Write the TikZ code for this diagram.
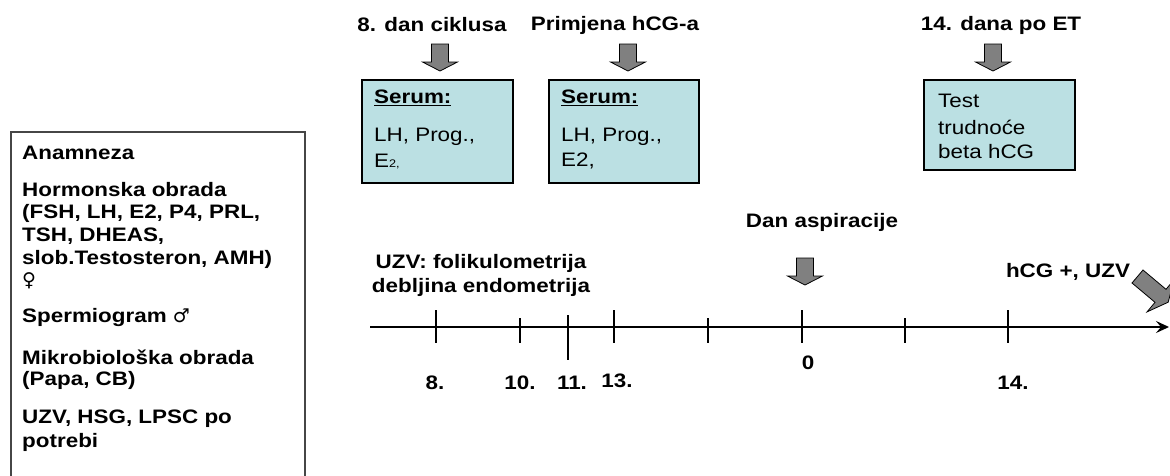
\documentclass[tikz,border=0pt]{standalone}
\usepackage{fontspec}
\setmainfont{Liberation Sans}[FakeStretch=1.15]
\newfontfamily\symfont{DejaVu Sans}
\usetikzlibrary{arrows.meta}
\definecolor{boxcyan}{RGB}{187,224,227}
\definecolor{arrowgray}{RGB}{128,128,128}
\definecolor{frame}{RGB}{70,70,70}
\tikzset{
  lbl/.style={font=\fontsize{19.5}{21}\selectfont\bfseries, inner sep=0pt},
  lblw/.style={lbl, anchor=west},
  txt/.style={font=\fontsize{19.5}{22}\selectfont, inner sep=0pt, anchor=west},
  boxst/.style={draw=black, line width=1.5pt, fill=boxcyan, inner sep=0pt, anchor=north west},
  arrowst/.style={draw=black, line width=0.8pt, fill=arrowgray},
  tickst/.style={line width=1.5pt},
  axisst/.style={line width=2pt, -{Stealth[length=13pt,width=12pt,inset=5pt]}},
  downarr/.pic={\path[arrowst] (-8.5,0) -- (8.5,0) -- (8.5,18) -- (17.5,18) -- (0,27) -- (-17.5,18) -- (-8.5,18) -- cycle;}
}
\begin{document}
\begin{tikzpicture}[x=1pt,y=-1pt]
\useasboundingbox (0,0) rectangle (1170,475);

% left box
\node[draw=frame, line width=1.8pt, minimum width=294, minimum height=370, inner sep=0pt, anchor=north west] (hist) at (10,131) {};
\node[lblw] (t1) at (22,153) {Anamneza};
\node[lblw] (t2) at (22,190) {Hormonska obrada};
\node[lblw] (t3) at (22,213) {(FSH, LH, E2, P4, PRL,};
\node[lblw] (t4) at (22,236) {TSH, DHEAS,};
\node[lblw] (t5) at (22,259) {slob.Testosteron, AMH)};
\node[lblw] (t6) at (22,281) {{\symfont\mdseries\fontsize{19}{20}\selectfont ♀}};
\node[lblw] (t7) at (22,317) {Spermiogram {\symfont\mdseries\fontsize{19}{20}\selectfont ♂}};
\node[lblw] (t8) at (22,357) {Mikrobiološka obrada};
\node[lblw] (t9) at (22,380) {(Papa, CB)};
\node[lblw] (t10) at (22,419) {UZV, HSG, LPSC po};
\node[lblw] (t11) at (22,442) {potrebi};

% top labels
\node[lbl] (l1) at (432,25) {8. dan ciklusa};
\node[lbl] (l2) at (615,25) {Primjena hCG-a};
\node[lbl] (l3) at (1001,25) {14. dana po ET};

\pic at (440,44) {downarr};
\pic at (628,44) {downarr};
\pic at (993,44) {downarr};

% boxes
\node[boxst, minimum width=151, minimum height=103] (b1) at (361,79) {};
\node[boxst, minimum width=150, minimum height=103] (b2) at (548,79) {};
\node[boxst, minimum width=151, minimum height=90] (b3) at (923,79) {};

\node[lblw] (s1) at (374,98) {\underline{Serum:}};
\node[txt] (s1a) at (374,137) {LH, Prog.,};
\node[txt] (s1b) at (374,161) {E{\fontsize{11}{12}\selectfont 2,}};
\node[lblw] (s2) at (561,98) {\underline{Serum:}};
\node[txt] (s2a) at (561,137) {LH, Prog.,};
\node[txt] (s2b) at (561,161) {E2,};
\node[txt] (s3a) at (938,101) {Test};
\node[txt] (s3b) at (938,127) {trudnoće};
\node[txt] (s3c) at (938,152) {beta hCG};

% timeline labels
\node[lbl] (uzv1) at (481,263) {UZV: folikulometrija};
\node[lbl] (uzv2) at (481,287) {debljina endometrija};
\node[lbl] (dan) at (822,222) {Dan aspiracije};
\pic at (805,258) {downarr};
\node[lbl] (hcg) at (1068,272) {hCG +, UZV};
\path[arrowst] (1132.0,283.0) -- (1155.0,302.3) -- (1147.0,311.9) -- (1168.2,302.2) -- (1174.0,279.7) -- (1166.0,289.3) -- (1143.0,270.0) -- cycle;

% axis
\coordinate (ax0) at (370,327);
\coordinate (ax1) at (1169,327);
\draw[axisst] (ax0) -- (ax1);
\draw[tickst] (436,310) -- (436,343);
\draw[tickst] (520,318) -- (520,343);
\draw[tickst] (568,315) -- (568,360);
\draw[tickst] (614,310) -- (614,343);
\draw[tickst] (708,318) -- (708,343);
\draw[tickst] (802,310) -- (802,343);
\draw[tickst] (905,318) -- (905,343);
\draw[tickst] (1008,310) -- (1008,343);

\node[lbl] (n8) at (435,383) {8.};
\node[lbl] (n10) at (520,383) {10.};
\node[lbl] (n11) at (572,383) {11.};
\node[lbl] (n13) at (617,381) {13.};
\node[lbl] (n0) at (808,363) {0};
\node[lbl] (n14) at (1013,383) {14.};
\end{tikzpicture}
\end{document}
